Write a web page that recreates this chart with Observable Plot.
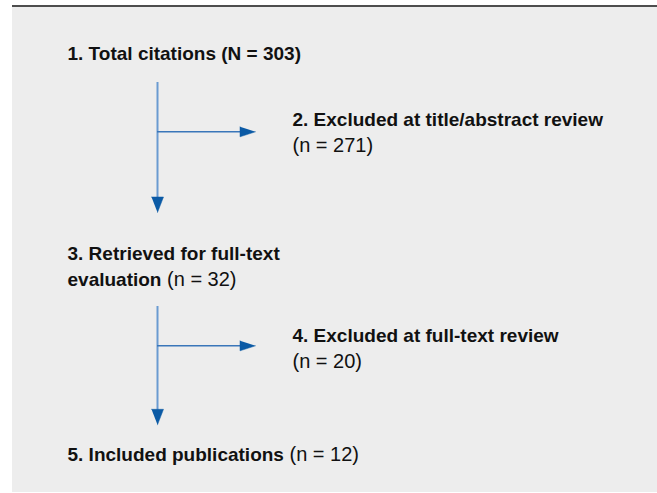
<!DOCTYPE html>
<html><head><meta charset="utf-8">
<script src="https://cdn.jsdelivr.net/npm/d3@7"></script>
<script src="https://cdn.jsdelivr.net/npm/@observablehq/plot@0.6"></script>
<style>
html,body{margin:0;padding:0;background:#fff;}
#wrap{position:relative;width:657px;height:493px;overflow:hidden;}
#panel{position:absolute;left:12px;top:5px;right:0;bottom:1px;background:#ededed;border-top:2px solid #4d4d4d;}
#chart{position:absolute;left:0;top:0;}
</style></head><body>
<div id="wrap"><div id="panel"></div><div id="chart"></div></div>
<script>
// ---- data ----
const stepNumbers = [1, 2, 3, 4, 5];
const stepTitleLines = [
  ["Total citations"],
  ["Excluded at title/abstract review"],
  ["Retrieved for full-text", "evaluation"],
  ["Excluded at full-text review"],
  ["Included publications"]
];
const countLabels = ["N", "n", "n", "n", "n"];
const stepCounts = [303, 271, 32, 20, 12];

// ---- layout ----
const countPlacement = ["bold-inline", "next-line", "inline", "next-line", "inline"];
const stepX = [67, 292, 67, 292, 67];
const stepBaselineY = [59.5, 125, 259, 341.5, 460];
const lineHeight = 26;
const connectorSpineX = [157, 157];
const connectorTopY = [82, 306];
const connectorBranchY = [131.3, 345.3];
const connectorTipY = [212, 424.3];
const connectorBranchTipX = [255, 255];

// ---- styles ----
const boldFont = "'Liberation Sans', Arial, sans-serif";
const lightFont = "'Liberation Sans Narrow', 'Arial Narrow', sans-serif";
const boldSize = 19, lightSize = 20;
const textColor = "#111";
const spineColor = "#6a9bd1", branchColor = "#3a76b9", headColor = "#0b5aa5";
const headLen = 15.5, headHalfV = 6, headHalfH = 5;

// build text rows
const rows = [];
stepNumbers.forEach((num, i) => {
  const lines = stepTitleLines[i].map((t, k) => ({bold: k === 0 ? `${num}. ${t}` : t, regular: ""}));
  const countText = `(${countLabels[i]} = ${stepCounts[i]})`;
  const last = lines[lines.length - 1];
  if (countPlacement[i] === "bold-inline") last.bold += " " + countText;
  else if (countPlacement[i] === "inline") last.regular = countText;
  else lines.push({bold: "", regular: countText});
  lines.forEach((l, k) => rows.push({...l, x: stepX[i], y: stepBaselineY[i] + k * lineHeight}));
});
const boldRows = rows.filter(r => r.bold !== "");
const lightRows = rows.filter(r => r.bold === "");

const connectors = connectorSpineX.map((x, i) => ({
  x, top: connectorTopY[i], branch: connectorBranchY[i], tip: connectorTipY[i], branchTip: connectorBranchTipX[i]
}));
const headPts = [];
connectors.forEach((c, i) => {
  headPts.push({id: "d" + i, x: c.x - headHalfV, y: c.tip - headLen},
               {id: "d" + i, x: c.x + headHalfV, y: c.tip - headLen},
               {id: "d" + i, x: c.x, y: c.tip});
  headPts.push({id: "r" + i, x: c.branchTip - headLen, y: c.branch - headHalfH},
               {id: "r" + i, x: c.branchTip - headLen, y: c.branch + headHalfH},
               {id: "r" + i, x: c.branchTip, y: c.branch});
});

const svg = Plot.plot({
  width: 657, height: 493, margin: 0,
  x: {domain: [0, 657], axis: null},
  y: {domain: [0, 493], reverse: true, axis: null},
  style: {background: "transparent", overflow: "visible"},
  marks: [
    Plot.ruleX(connectors, {x: "x", y1: "top", y2: d => d.tip - headLen + 1, stroke: spineColor, strokeWidth: 2}),
    Plot.ruleY(connectors, {y: "branch", x1: "x", x2: d => d.branchTip - headLen + 1, stroke: branchColor, strokeWidth: 1.4}),
    Plot.line(headPts, {x: "x", y: "y", z: "id", fill: headColor, stroke: headColor, strokeWidth: 0.5}),
    Plot.text(boldRows, {x: "x", y: "y", text: "bold", textAnchor: "start", lineAnchor: "bottom",
      fontFamily: boldFont, fontSize: boldSize, fontWeight: "bold", fill: textColor}),
    Plot.text(lightRows, {x: "x", y: "y", text: "regular", textAnchor: "start", lineAnchor: "bottom",
      fontFamily: lightFont, fontSize: lightSize, fontWeight: "normal", fill: textColor})
  ]
});

// append the regular-weight count after bold text on the same line
d3.select(svg).selectAll("text").each(function() {
  const el = this;
  const r = boldRows.find(b => b.regular && b.bold === el.textContent);
  if (r) {
    d3.select(el).append("tspan")
      .attr("font-family", lightFont).attr("font-weight", "normal").attr("font-size", lightSize)
      .text(" " + r.regular);
  }
});

document.getElementById("chart").appendChild(svg);
</script>
</body></html>
